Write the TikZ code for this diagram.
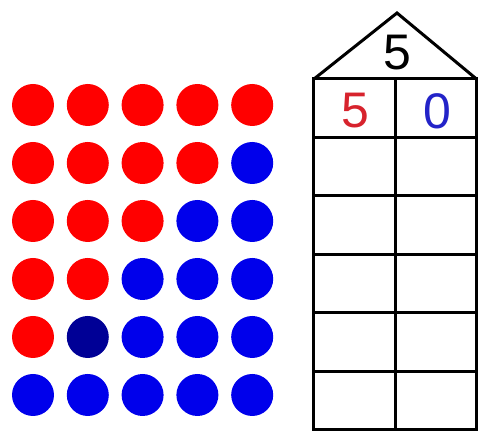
\documentclass[tikz,border=0pt]{standalone}
\usepackage{fontspec}
\setmainfont{Liberation Sans}
\usepackage{tikz}
\usetikzlibrary{positioning}

\definecolor{dotred}{RGB}{255,0,0}
\definecolor{dotblue}{RGB}{0,0,235}
\definecolor{dotdark}{RGB}{0,0,150}
\definecolor{numred}{RGB}{215,35,45}
\definecolor{numblue}{RGB}{35,35,200}

\begin{document}
\begin{tikzpicture}[x=0.5pt, y=-0.5pt, line width=1.5pt,
  dot/.style={circle, inner sep=0pt, minimum size=21pt},
  digit/.style={inner sep=0pt, font=\fontsize{25}{25}\selectfont}]
\useasboundingbox (0,0) rectangle (479,432);

% counters: 6 rows of 5, red part shrinks row by row
\foreach \r in {0,...,5} {
  \foreach \c in {0,...,4} {
    \ifnum\c<\numexpr5-\r\relax \def\col{dotred}\else \def\col{dotblue}\fi
    \ifnum\r\c=41 \def\col{dotdark}\fi
    \node[dot, fill=\col] (d\r\c) at (33+54.8*\c, 105+58*\r) {};
  }
}

% number house
\draw[line join=miter] (314,79) -- (397,13) -- (476.5,79);
\foreach \k in {0,...,5} {
  \draw (314,79+58.5*\k) rectangle (396,79+58.5*\k+58.5);
  \draw (396,79+58.5*\k) rectangle (476.5,79+58.5*\k+58.5);
}
\node[digit] (total) at (397,53) {5};
\node[digit, text=numred] (partL) at (355,111) {5};
\node[digit, text=numblue] (partR) at (437,111) {0};
\end{tikzpicture}
\end{document}
